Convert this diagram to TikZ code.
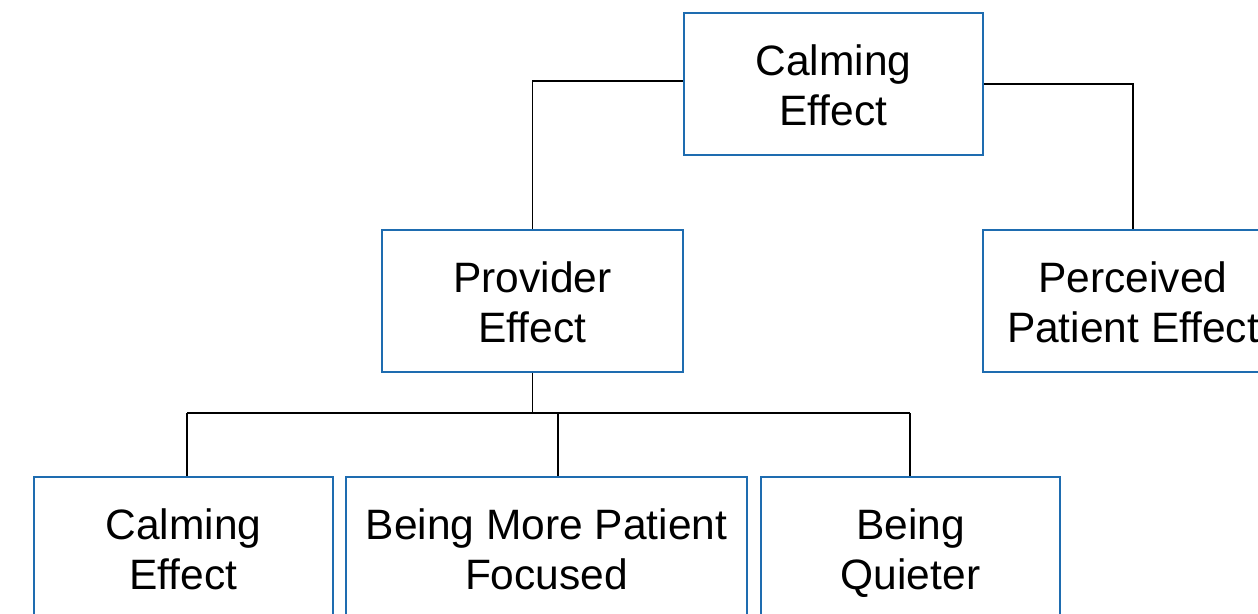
\documentclass[tikz,border=0pt]{standalone}
\usepackage{fontspec}
\setmainfont{Liberation Sans}
\definecolor{boxblue}{RGB}{30,108,176}
\newcommand\toprl{\rule{0pt}{41pt}}
\newcommand\botrl{\rule[-9pt]{0pt}{9pt}}
\begin{document}
\begin{tikzpicture}[x=1pt,y=-1pt,
  box/.style={draw=boxblue,line width=2.2pt,fill=white,align=center,inner sep=0pt,
    font=\fontsize{42.5}{50}\selectfont},
  conn/.style={draw=black,line width=1.3pt}]
\useasboundingbox (0,0) rectangle (1258,613);
\clip (0,0) rectangle (1258,613);
\node[box,minimum width=299pt,minimum height=142pt] (top) at (833.5,84) {\toprl Calming\\Effect\botrl};
\node[box,minimum width=301pt,minimum height=142pt] (prov) at (532.5,301) {\toprl Provider\\Effect\botrl};
\node[box,minimum width=300pt,minimum height=142pt] (perc) at (1133,301) {\toprl Perceived\\Patient Effect\botrl};
\node[box,minimum width=299pt,minimum height=142pt] (b1) at (183.5,548) {\toprl Calming\\Effect\botrl};
\node[box,minimum width=401pt,minimum height=142pt] (b2) at (546.5,548) {\toprl Being More Patient\\Focused\botrl};
\node[box,minimum width=299pt,minimum height=142pt] (b3) at (910.5,548) {\toprl Being\\Quieter\botrl};
\coordinate (bus) at (532.5,413);
\draw[conn] (top.west |- 0,81) -| (prov.north);
\draw[conn] (top.east) -| (perc.north);
\draw[conn] (prov.south) -- (bus);
\draw[conn] (bus -| 187,0) -- (bus -| 910,0);
\draw[conn] (187,413) -- (187,476);
\draw[conn] (558,413) -- (558,476);
\draw[conn] (910,413) -- (910,476);
\end{tikzpicture}
\end{document}
